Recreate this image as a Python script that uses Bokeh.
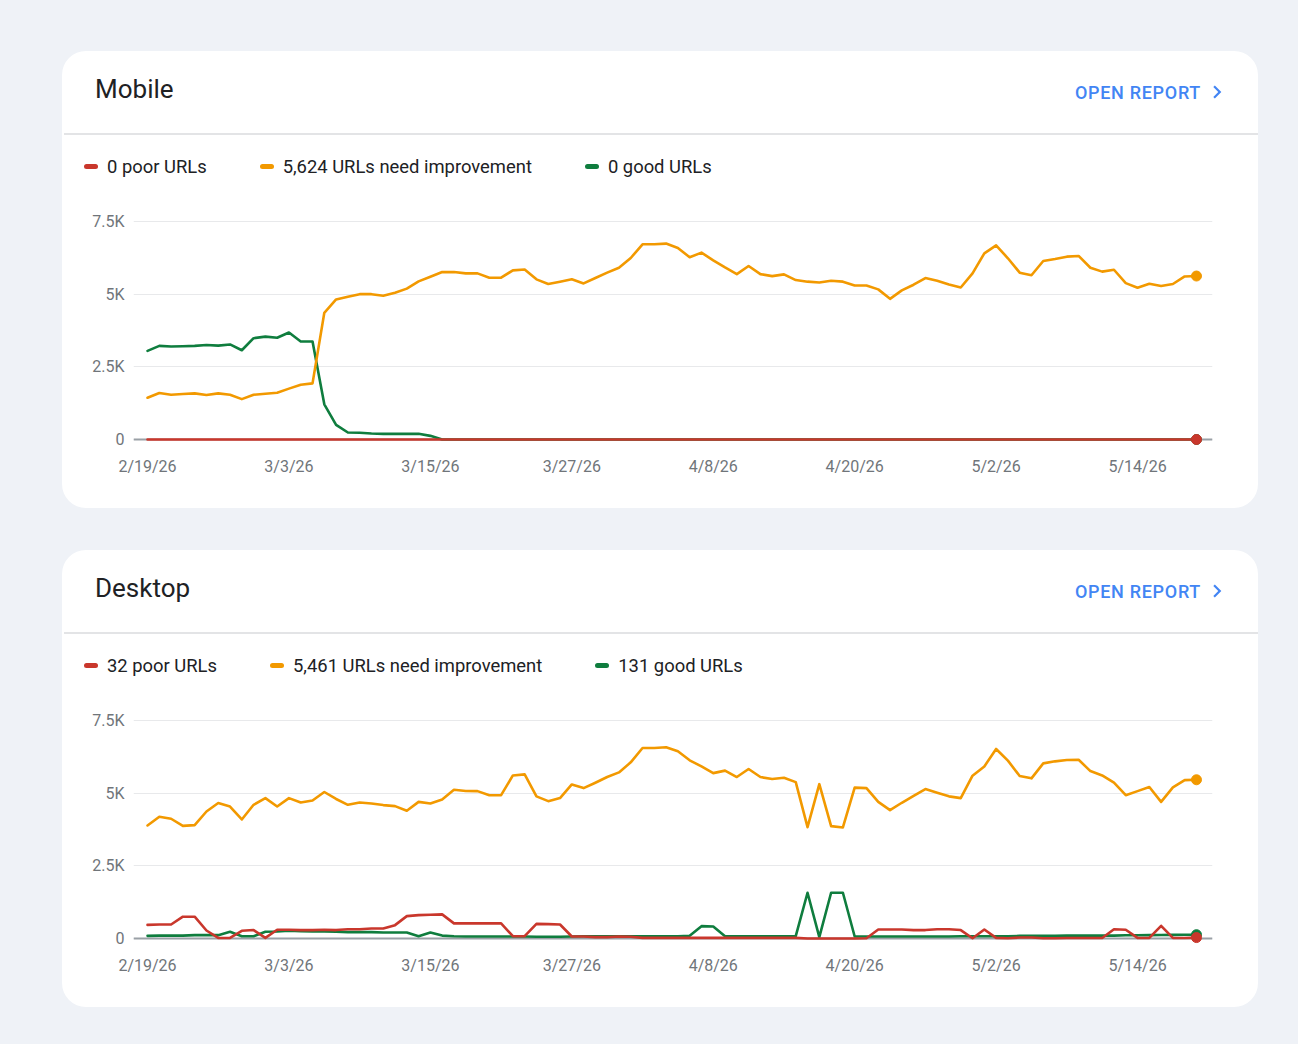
import pandas as pd
from bokeh.plotting import figure
from bokeh.layouts import column
from bokeh.models import Div, FixedTicker, Span
from bokeh.embed import file_html
from bokeh.resources import INLINE

# ---------------- data ----------------
start_date = "2026-02-19"
dates = pd.date_range(start_date, periods=90, freq="D")
days = [int((d - dates[0]).days) for d in dates]

x_tick_days = [0, 12, 24, 36, 48, 60, 72, 84]
x_tick_labels = ["2/19/26", "3/3/26", "3/15/26", "3/27/26", "4/8/26", "4/20/26", "5/2/26", "5/14/26"]
y_ticks = [0, 2500, 5000, 7500]
y_tick_labels = ["0", "2.5K", "5K", "7.5K"]

mobile_poor = [
    0, 0, 0, 0, 0, 0, 0, 0, 0, 0, 0, 0, 0, 0, 0, 0, 0, 0, 0, 0, 0, 0, 0, 0, 0, 0, 0, 0, 0, 0,
    0, 0, 0, 0, 0, 0, 0, 0, 0, 0, 0, 0, 0, 0, 0, 0, 0, 0, 0, 0, 0, 0, 0, 0, 0, 0, 0, 0, 0, 0,
    0, 0, 0, 0, 0, 0, 0, 0, 0, 0, 0, 0, 0, 0, 0, 0, 0, 0, 0, 0, 0, 0, 0, 0, 0, 0, 0, 0, 0, 0,
]
mobile_needs = [
    1438, 1600, 1540, 1564, 1587, 1530, 1587, 1540, 1390, 1540,
    1575, 1610, 1750, 1886, 1930, 4360, 4820, 4910, 5000, 5000,
    4945, 5050, 5190, 5440, 5600, 5760, 5760, 5715, 5715, 5566,
    5566, 5820, 5850, 5510, 5350, 5430, 5510, 5370, 5555, 5740,
    5910, 6245, 6716, 6716, 6740, 6590, 6270, 6430, 6165, 5920,
    5690, 5970, 5690, 5620, 5680, 5485, 5430, 5400, 5460, 5430,
    5300, 5300, 5165, 4840, 5130, 5325, 5555, 5460, 5335, 5230,
    5715, 6405, 6680, 6235, 5740, 5650, 6140, 6210, 6290, 6315,
    5910, 5775, 5840, 5380, 5220, 5360, 5280, 5350, 5610, 5624,
]
mobile_good = [
    3050, 3220, 3200, 3210, 3220, 3250, 3230, 3270, 3070, 3485,
    3540, 3500, 3680, 3370, 3370, 1210, 506, 240, 230, 207,
    195, 195, 195, 195, 126, 0, 0, 0, 0, 0,
    0, 0, 0, 0, 0, 0, 0, 0, 0, 0, 0, 0, 0, 0, 0, 0, 0, 0, 0, 0,
    0, 0, 0, 0, 0, 0, 0, 0, 0, 0, 0, 0, 0, 0, 0, 0, 0, 0, 0, 0,
    0, 0, 0, 0, 0, 0, 0, 0, 0, 0, 0, 0, 0, 0, 0, 0, 0, 0, 0, 0,
]

desktop_poor = [
    470, 483, 483, 750, 750, 276, 20, 20, 265, 290,
    20, 300, 300, 290, 290, 300, 290, 320, 320, 345,
    345, 460, 770, 805, 815, 830, 520, 520, 520, 520,
    520, 80, 80, 505, 495, 483, 70, 70, 46, 46,
    70, 58, 23, 23, 23, 23, 23, 23, 23, 23,
    23, 23, 23, 23, 23, 23, 0, 0, 0, 0,
    0, 10, 310, 310, 310, 290, 290, 320, 320, 290,
    10, 310, 23, 10, 35, 35, 10, 10, 20, 20,
    20, 20, 320, 300, 20, 20, 437, 20, 20, 32,
]
desktop_needs = [
    3890, 4190, 4120, 3875, 3900, 4370, 4660, 4540, 4095, 4600,
    4830, 4540, 4830, 4680, 4750, 5040, 4800, 4600, 4680, 4645,
    4590, 4555, 4395, 4700, 4645, 4785, 5120, 5075, 5070, 4930,
    4930, 5610, 5645, 4890, 4725, 4830, 5300, 5175, 5360, 5555,
    5715, 6060, 6555, 6555, 6580, 6440, 6130, 5920, 5690, 5775,
    5555, 5830, 5555, 5485, 5530, 5380, 3830, 5310, 3865, 3820,
    5190, 5175, 4700, 4415, 4670, 4910, 5140, 5015, 4890, 4830,
    5600, 5920, 6520, 6120, 5590, 5510, 6025, 6095, 6140, 6150,
    5760, 5610, 5360, 4930, 5070, 5210, 4700, 5200, 5450, 5461,
]
desktop_good = [
    92, 100, 100, 100, 115, 115, 115, 230, 80, 80,
    230, 240, 265, 250, 240, 240, 230, 220, 220, 220,
    207, 207, 207, 80, 207, 100, 80, 70, 70, 70,
    70, 70, 70, 58, 58, 58, 70, 80, 80, 80,
    80, 80, 80, 80, 80, 80, 92, 425, 414, 80,
    80, 80, 80, 80, 80, 80, 1575, 46, 1575, 1575,
    70, 70, 70, 70, 70, 70, 70, 70, 70, 80,
    80, 80, 80, 80, 90, 90, 90, 90, 100, 100,
    100, 100, 100, 110, 110, 115, 120, 125, 128, 131,
]

# ---------------- style ----------------
POOR = "#c9372c"
NEEDS = "#f29900"
GOOD = "#0f7d3e"
PAGE_BG = "#eff2f7"
FONT = "Roboto"


def header(title, poor, needs, good):
    items = [
        (f"{poor[-1]:,} poor URLs", POOR),
        (f"{needs[-1]:,} URLs need improvement", NEEDS),
        (f"{good[-1]:,} good URLs", GOOD),
    ]
    legend = "".join(
        '<div style="display:flex;align-items:center;">'
        f'<span style="display:inline-block;width:14px;height:5px;border-radius:3px;background:{c};margin-right:9px;"></span>'
        f'<span>{t}</span></div>'
        for t, c in items
    )
    html = (
        f'<div style="position:relative;width:1196px;height:140px;font-family:{FONT},sans-serif;">'
        f'<div style="position:absolute;left:33px;top:23px;font-size:26px;line-height:30px;color:#202124;white-space:nowrap;">{title}</div>'
        '<div style="position:absolute;right:57px;top:31px;font-size:18px;line-height:21px;font-weight:500;'
        'letter-spacing:0.7px;color:#4285f4;white-space:nowrap;">OPEN REPORT</div>'
        '<svg style="position:absolute;left:1142px;top:28px;" width="26" height="26" viewBox="0 0 24 24">'
        '<path d="M10 6L8.59 7.41 13.17 12l-4.58 4.59L10 18l6-6z" fill="#4285f4"/></svg>'
        '<div style="position:absolute;left:2px;top:82px;width:1194px;height:2px;background:#e3e4e6;"></div>'
        '<div style="position:absolute;left:22px;top:105px;display:flex;align-items:center;gap:53px;'
        f'font-size:18.4px;line-height:21px;color:#202124;white-space:nowrap;">{legend}</div>'
        '</div>'
    )
    return Div(text=html, width=1196, height=140, margin=0)


def chart(poor, needs, good):
    p = figure(
        width=1196, height=317,
        x_range=(-1.19, 90.36), y_range=(-275, 7844),
        output_backend="svg", toolbar_location=None,
        min_border_left=71, min_border_right=46, min_border_top=20, min_border_bottom=61,
        background_fill_color=None, border_fill_color=None, outline_line_color=None,
        margin=0,
    )
    p.xgrid.visible = False
    p.ygrid.grid_line_color = "#e8e9eb"
    p.ygrid.grid_line_width = 1
    p.yaxis.ticker = FixedTicker(ticks=y_ticks)
    p.ygrid.ticker = FixedTicker(ticks=y_ticks)
    p.yaxis.major_label_overrides = {t: l for t, l in zip(y_ticks, y_tick_labels)}
    p.xaxis.ticker = FixedTicker(ticks=x_tick_days)
    p.xaxis.major_label_overrides = {t: l for t, l in zip(x_tick_days, x_tick_labels)}
    for ax in (p.xaxis, p.yaxis):
        ax.axis_line_color = None
        ax.major_tick_line_color = None
        ax.minor_tick_line_color = None
        ax.major_tick_out = 0
        ax.major_tick_in = 0
        ax.minor_tick_out = 0
        ax.major_label_text_font = FONT
        ax.major_label_text_font_size = "16px"
        ax.major_label_text_color = "#70757a"
    p.yaxis.major_label_standoff = 9
    p.xaxis.major_label_standoff = 9

    base = Span(location=y_ticks[0], dimension="width", line_color="#9aa0a6", line_width=2, level="underlay")
    p.add_layout(base)

    for series, col in ((good, GOOD), (needs, NEEDS), (poor, POOR)):
        p.line(days, series, line_color=col, line_width=2.6, line_join="round", line_cap="round")
    for series, col in ((good, GOOD), (needs, NEEDS), (poor, POOR)):
        p.scatter([days[-1]], [series[-1]], size=10, color=col, line_color=col)
    return p


def card(title, poor, needs, good, top_margin):
    return column(
        header(title, poor, needs, good),
        chart(poor, needs, good),
        width=1196, height=457, spacing=0,
        margin=(top_margin, 0, 0, 62),
        styles={"background-color": "#ffffff", "border-radius": "24px"},
    )


card_mobile = card("Mobile", mobile_poor, mobile_needs, mobile_good, 51)
card_desktop = card("Desktop", desktop_poor, desktop_needs, desktop_good, 42)

page = column(
    card_mobile, card_desktop,
    width=1298, height=1044, spacing=0, margin=0,
    styles={"background-color": PAGE_BG},
)

open("out.html", "w").write(file_html(page, INLINE))
